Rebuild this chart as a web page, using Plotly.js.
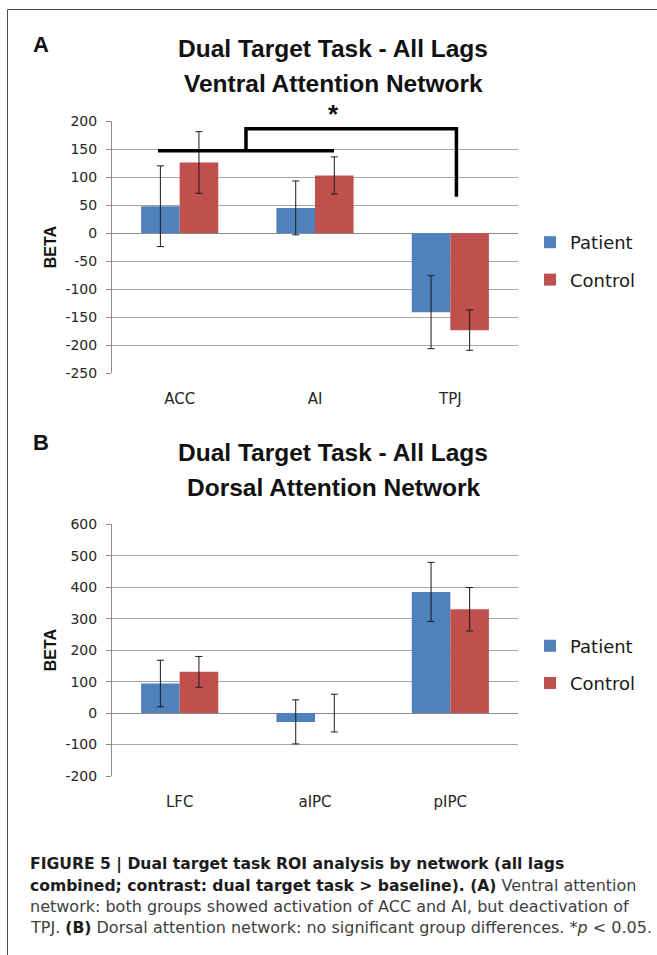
<!DOCTYPE html>
<html>
<head>
<meta charset="utf-8">
<script src="https://cdn.plot.ly/plotly-3.0.1.min.js"></script>
<style>
  html, body { margin: 0; padding: 0; background: #ffffff; }
  #chart { width: 657px; height: 955px; }
</style>
</head>
<body>
<div id="chart"></div>
<script>
// ---------- DATA ----------
const groups = ['Patient', 'Control'];

// Panel A: Ventral Attention Network
const categoriesA = ['ACC', 'AI', 'TPJ'];
const patientA = [48, 45, -141];
const patientAErr = [72, 48, 65];
const controlA = [126, 103, -173];
const controlAErr = [55, 33, 36];

// Panel B: Dorsal Attention Network
const categoriesB = ['LFC', 'aIPC', 'pIPC'];
const patientB = [94, -28, 385];
const patientBErr = [74, 70, 94];
const controlB = [131, 0, 330];
const controlBErr = [49, 60, 69];

// Significance bracket (panel A), in data units
const sigLowX = [-0.16, 1.14];
const sigLowY = 147;
const sigStemX = 0.49;
const sigHighY = 186;
const sigRightX = 2.045;
const sigRightEndY = 65;

const yTicksA = [-250, -200, -150, -100, -50, 0, 50, 100, 150, 200];
const yTickTextA = ['-250', '-200', '-150', '-100', '-50', '0', '50', '100', '150', '200'];
const yTicksB = [-200, -100, 0, 100, 200, 300, 400, 500, 600];
const yTickTextB = ['-200', '-100', '0', '100', '200', '300', '400', '500', '600'];

const titleA = ['Dual Target Task - All Lags', 'Ventral Attention Network'];
const titleB = ['Dual Target Task - All Lags', 'Dorsal Attention Network'];

// ---------- STYLE ----------
const W = 657, H = 955;
const px = v => v / W;
const py = v => 1 - v / H;
const BLUE = '#4F81BD';
const RED = '#C0504D';
const GRID = '#a6a6a6';
const AXIS = '#8c8c8c';
const TXT = '#262626';
const tickFont = { family: 'DejaVu Sans, Verdana, sans-serif', size: 14, color: TXT };
const catFont = { family: 'DejaVu Sans, Verdana, sans-serif', size: 15, color: TXT };
const legFont = { family: 'DejaVu Sans, Verdana, sans-serif', size: 18, color: '#1a1a1a' };
const boldFont = (s) => ({ family: 'Liberation Sans, Arial, sans-serif', size: s, color: '#111111' });

const errStyle = { type: 'data', visible: true, color: '#1a1a1a', thickness: 1, width: 3.5 };

function barTrace(name, x, y, err, color, xa, ya, legend, group) {
  return {
    type: 'bar', name: name, x: x, y: y,
    xaxis: xa, yaxis: ya, legend: legend, legendgroup: group,
    marker: { color: color, line: { width: 0 } },
    error_y: Object.assign({ array: err }, errStyle),
    hoverinfo: 'x+y+name'
  };
}

const data = [
  barTrace(groups[0], categoriesA, patientA, patientAErr, BLUE, 'x', 'y', 'legend', 'pA'),
  barTrace(groups[1], categoriesA, controlA, controlAErr, RED, 'x', 'y', 'legend', 'cA'),
  barTrace(groups[0], categoriesB, patientB, patientBErr, BLUE, 'x2', 'y2', 'legend2', 'pB'),
  barTrace(groups[1], categoriesB, controlB, controlBErr, RED, 'x2', 'y2', 'legend2', 'cB')
];

const xDom = [px(112), px(518)];
const yDomA = [py(373.3), py(121)];
const yDomB = [py(776), py(524.3)];

function yAxis(range, ticks, text, dom, anchor) {
  return {
    domain: dom, anchor: anchor, range: range, tickmode: 'array', tickvals: ticks, ticktext: text,
    showline: true, linecolor: AXIS, linewidth: 1,
    ticks: 'outside', ticklen: 5, tickcolor: AXIS, ticklabelstandoff: 6,
    showgrid: true, gridcolor: GRID, gridwidth: 1,
    zeroline: true, zerolinecolor: AXIS, zerolinewidth: 1,
    tickfont: tickFont, fixedrange: true,
    title: { text: '<b>BETA</b>', font: boldFont(16), standoff: 4 }
  };
}
function xAxis(anchor) {
  return {
    domain: xDom, anchor: anchor, type: 'category',
    showline: false, showgrid: false, zeroline: false,
    ticks: '', ticklabelstandoff: 15, tickfont: catFont, fixedrange: true
  };
}
function zeroTicks(over, pos) {
  return {
    overlaying: over, anchor: 'free', position: pos, range: [-0.5, 2.5],
    tickmode: 'array', tickvals: [0.5, 1.5, 2.5], ticks: 'outside', ticklen: 5,
    tickcolor: AXIS, showticklabels: false, showline: false, showgrid: false,
    zeroline: false, fixedrange: true
  };
}

const legendBase = {
  x: px(530), xanchor: 'left', yanchor: 'middle',
  font: legFont, bgcolor: 'rgba(0,0,0,0)', borderwidth: 0,
  traceorder: 'grouped', tracegroupgap: 11, itemwidth: 30
};

const annotations = [
  { text: '<b>A</b>', x: px(41), y: py(44), font: boldFont(22) },
  { text: '<b>B</b>', x: px(41), y: py(442), font: boldFont(22) },
  { text: '<b>' + titleA[0] + '</b>', x: px(333), y: py(49), font: boldFont(24.5) },
  { text: '<b>' + titleA[1] + '</b>', x: px(333), y: py(84), font: boldFont(24.5) },
  { text: '<b>' + titleB[0] + '</b>', x: px(333), y: py(452), font: boldFont(24.5) },
  { text: '<b>' + titleB[1] + '</b>', x: px(333), y: py(487), font: boldFont(24.5) },
  { text: '<b>*</b>', x: sigLowX[1], xref: 'x', y: py(114), font: boldFont(26) }
].map(a => Object.assign({ xref: 'paper', yref: 'paper', showarrow: false, xanchor: 'center', yanchor: 'middle' }, a));

const capFont = { family: 'DejaVu Sans, Verdana, sans-serif', size: 16, color: '#404040' };
const B = (s) => '<span style="color:#1c1c1c;font-size:15.6px"><b>' + s + '</b></span>';
const captionLines = [
  B('FIGURE 5 | Dual target task ROI analysis by network (all lags'),
  B('combined; contrast: dual target task &gt; baseline). (A)') + ' Ventral attention',
  'network: both groups showed activation of ACC and AI, but deactivation of',
  'TPJ. ' + B('(B)') + ' Dorsal attention network: no significant group differences. *<i>p</i> &lt; 0.05.'
];
const captionY = [864, 885, 906, 927];
captionLines.forEach((t, i) => {
  annotations.push({ text: t, xref: 'paper', yref: 'paper', x: px(28), y: py(captionY[i]),
    xanchor: 'left', yanchor: 'middle', showarrow: false, font: capFont, align: 'left' });
});

const shapes = [
  { type: 'path', xref: 'x', yref: 'y',
    path: 'M ' + sigLowX[0] + ',' + sigLowY + ' L ' + sigLowX[1] + ',' + sigLowY +
          ' M ' + sigStemX + ',' + sigLowY + ' L ' + sigStemX + ',' + sigHighY +
          ' L ' + sigRightX + ',' + sigHighY + ' L ' + sigRightX + ',' + sigRightEndY,
    line: { color: '#000000', width: 3.5 } },
  { type: 'line', xref: 'paper', yref: 'paper', x0: px(7.5), x1: 1.01, y0: py(9.5), y1: py(9.5),
    line: { color: '#4a4a4a', width: 1 } },
  { type: 'line', xref: 'paper', yref: 'paper', x0: px(7.5), x1: px(7.5), y0: py(9.5), y1: -0.01,
    line: { color: '#4a4a4a', width: 1 } }
];

const layout = {
  width: W, height: H,
  margin: { l: 0, r: 0, t: 0, b: 0, pad: 0 },
  paper_bgcolor: '#ffffff', plot_bgcolor: '#ffffff',
  barmode: 'group', bargap: 0.43, bargroupgap: 0,
  showlegend: true,
  xaxis: xAxis('y'), yaxis: yAxis([-250, 200], yTicksA, yTickTextA, yDomA, 'x'),
  xaxis2: xAxis('y2'), yaxis2: yAxis([-200, 600], yTicksB, yTickTextB, yDomB, 'x2'),
  xaxis3: zeroTicks('x', py(233.3)),
  xaxis4: zeroTicks('x2', py(712.7)),
  legend: Object.assign({ y: py(261) }, legendBase),
  legend2: Object.assign({ y: py(664.5) }, legendBase),
  annotations: annotations,
  shapes: shapes,
  font: { family: 'DejaVu Sans, sans-serif' }
};

Plotly.newPlot('chart', data, layout, { displayModeBar: false, staticPlot: true });
</script>
</body>
</html>
